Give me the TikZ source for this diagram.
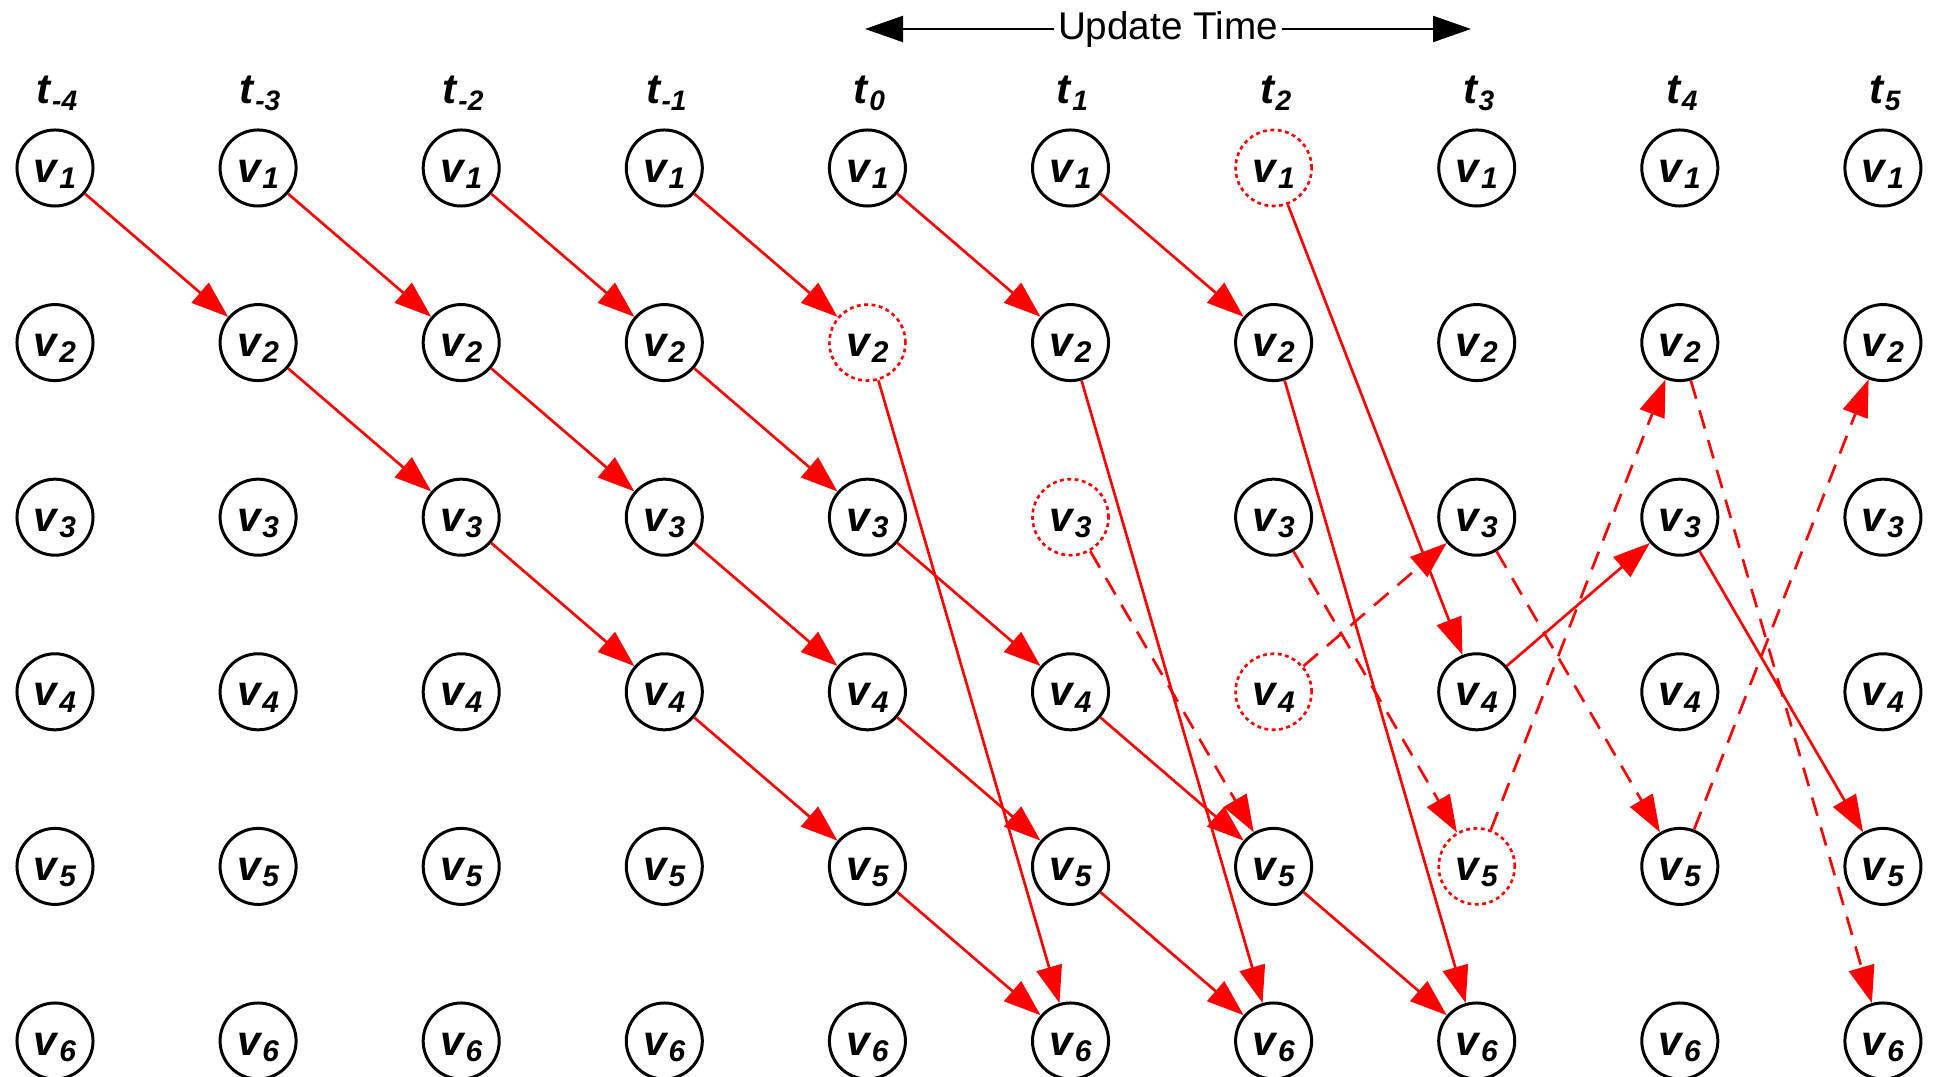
\documentclass[tikz,border=0pt]{standalone}
\usepackage{fontspec}
\setmainfont{Liberation Sans}
\usetikzlibrary{arrows.meta}

\newcommand{\sublbl}[3]{\textbf{\textit{#1}}\raisebox{-1.8pt}{\fontsize{#3}{#3}\selectfont\bfseries\itshape #2}}

\begin{document}
\begin{tikzpicture}[x=0.01cm,y=-0.01cm,
  vtx/.style={circle,draw,line width=0.85pt,minimum size=0.76cm,inner sep=0pt,
    text height=9.5pt,text depth=1.5pt,font=\fontsize{12}{12}\selectfont},
  gone/.style={draw=red,line width=0.75pt,dash pattern=on 1.1pt off 1pt},
  hop/.style={red,line width=0.75pt,-{Triangle[length=0.37cm,width=0.26cm]}},
  jump/.style={hop,dash pattern=on 0.19cm off 0.12cm},
  s42/.style={gone},s53/.style={gone},s61/.style={gone},s64/.style={gone},s75/.style={gone}]

\useasboundingbox (0,0) rectangle (1940,1077);

% update time arrow
\node[anchor=base,inner sep=1pt,font=\fontsize{11}{12}\selectfont] (upd) at (1168,40) {Update Time};
\coordinate (updL) at (865,29);
\coordinate (updR) at (1471,29);
\draw[line width=0.6pt,-{Triangle[length=0.38cm,width=0.26cm]}] (upd.west |- updL) -- (updL);
\draw[line width=0.6pt,-{Triangle[length=0.38cm,width=0.26cm]}] (upd.east |- updR) -- (updR);

% grid of vertices
\foreach \c/\t in {0/-4,1/-3,2/-2,3/-1,4/0,5/1,6/2,7/3,8/4,9/5} {
  \node[anchor=base,font=\fontsize{12}{12}\selectfont] (t\c) at (57+203.1*\c,104) {\sublbl{t}{\t}{8}};
  \foreach \r in {1,...,6}
    \node[vtx,s\c\r/.try] (n\c\r) at (55+203.1*\c,168+174.6*\r-174.6) {\sublbl{v}{\r}{8.5}};
}

% solid moves
\foreach \a/\b in {01/12,11/22,21/32,31/42,41/52,51/62,
                   12/23,22/33,32/43,23/34,33/44,43/54,
                   34/45,44/55,54/65,45/56,55/66,65/76,
                   42/56,52/66,62/76,61/74,74/83,83/95}
  \draw[hop] (n\a) -- (n\b);

% dashed moves
\foreach \a/\b in {53/65,63/75,64/73,73/85,75/82,85/92,82/96}
  \draw[jump] (n\a) -- (n\b);
\end{tikzpicture}
\end{document}
